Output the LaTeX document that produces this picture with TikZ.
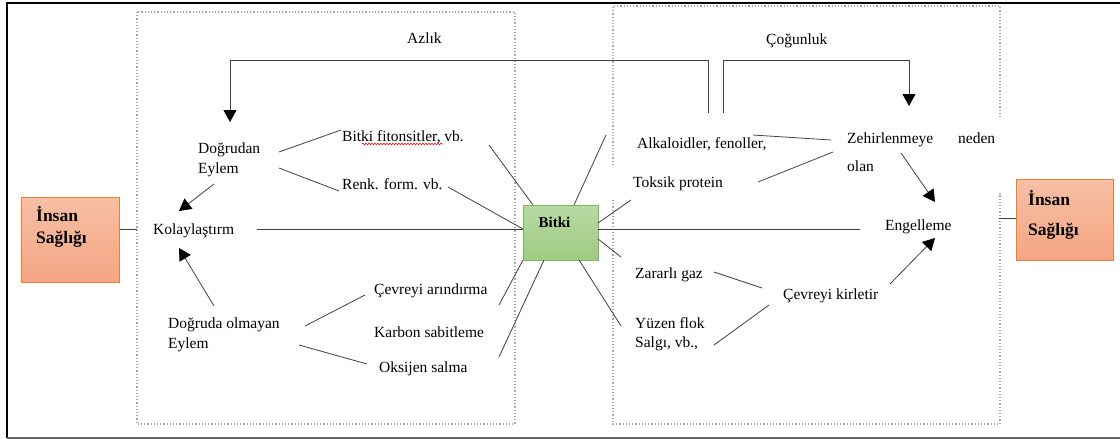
\documentclass[tikz,border=0pt]{standalone}
\usepackage{fontspec}
\setmainfont{Liberation Serif}
\usetikzlibrary{arrows.meta,decorations.pathmorphing}
\definecolor{lnc}{HTML}{404040}
\definecolor{zonec}{HTML}{A6A6A6}
\definecolor{salmonT}{HTML}{F7BFA5}
\definecolor{salmonB}{HTML}{F4A583}
\definecolor{salmonD}{HTML}{ED7D31}
\definecolor{greenT}{HTML}{B8D9A3}
\definecolor{greenB}{HTML}{9FCB82}
\definecolor{greenD}{HTML}{7FB85A}
\begin{document}
\begin{tikzpicture}[x=1pt,y=-1pt,
 txt/.style={inner sep=0pt, anchor=base west, font=\fontsize{15.5}{18}\selectfont},
 boldtxt/.style={inner sep=0pt, anchor=base west, font=\fontsize{17.5}{20}\selectfont\bfseries},
 conn/.style={draw=lnc, line width=0.8pt},
 arr/.style={conn, -{Triangle[length=12pt,width=13pt,color=black]}},
 zone/.style={draw=zonec, dotted, line width=1.2pt},
 salmonbox/.style={draw=salmonD, line width=1pt, top color=salmonT, bottom color=salmonB, inner sep=0pt, anchor=north west},
 greenbox/.style={draw=greenD, line width=1pt, top color=greenT, bottom color=greenB, inner sep=0pt, anchor=north west},
]
\useasboundingbox (0,0) rectangle (1120,439);
% outer frame
\draw[line width=2.5pt] (7,3) -- (1120,3);
\draw[line width=2pt] (7,2) -- (7,438);
\draw[black!60, line width=1.5pt] (7,438) -- (1120,438);
% dotted zones
\draw[zone] (137,12) rectangle (515,424);
\draw[zone] (613,165) -- (613,6) -- (1000,6) -- (1000,118);
\draw[zone] (613,200) -- (613,424) -- (1000,424) -- (1000,193);
% boxes
\node[salmonbox, minimum width=98pt, minimum height=85pt] (insanL) at (21,197) {};
\node[boldtxt] (insanL1) at (36,221) {İnsan};
\node[boldtxt] (insanL2) at (36,243) {Sağlığı};
\node[salmonbox, minimum width=97pt, minimum height=81pt] (insanR) at (1016,179) {};
\node[boldtxt] (insanR1) at (1028,205) {İnsan};
\node[boldtxt] (insanR2) at (1028,235) {Sağlığı};
\node[greenbox, minimum width=75pt, minimum height=55pt] (bitki) at (523,205) {};
\node[inner sep=0pt, font=\fontsize{15}{18}\selectfont\bfseries] (bitkit) at (554.5,222) {Bitki};
% texts
\node[txt] (azlik) at (407,43) {Azlık};
\node[txt] (cogun) at (766,45) {Çoğunluk};
\node[txt] (dog1) at (198,153) {Doğrudan};
\node[txt] (dog2) at (198,173) {Eylem};
\node[txt] (fiton) at (342,141) {Bitki fitonsitler, vb.};
\node[txt] (renk) at (342,189) {Renk. form. vb.};
\node[txt] (kolay) at (153,234) {Kolaylaştırm};
\node[txt] (dol1) at (168,328) {Doğruda olmayan};
\node[txt] (dol2) at (168,348) {Eylem};
\node[txt] (arin) at (374,294) {Çevreyi arındırma};
\node[txt] (karbon) at (374,337) {Karbon sabitleme};
\node[txt] (oksi) at (379,372) {Oksijen salma};
\node[txt] (alka) at (637,148) {Alkaloidler, fenoller,};
\node[txt] (toksik) at (633,187) {Toksik protein};
\node[txt] (zehir) at (847,143) {Zehirlenmeye};
\node[txt] (neden) at (958,143) {neden};
\node[txt] (olan) at (847,171) {olan};
\node[txt] (engel) at (885,230) {Engelleme};
\node[txt] (zarar) at (635,278) {Zararlı gaz};
\node[txt] (kirlet) at (783,299) {Çevreyi kirletir};
\node[txt] (yuzen1) at (635,328) {Yüzen flok};
\node[txt] (yuzen2) at (635,347) {Salgı, vb.,};
% spell-check underline
\draw[red, line width=0.6pt, decorate, decoration={snake, amplitude=0.8pt, segment length=3pt}] (362,144) -- (443,144);
% coordinates
\coordinate (alkaA) at (708,113);
\coordinate (alkaB) at (723,113);
\coordinate (dogTip) at (230,122);
\coordinate (zehTip) at (909,106);
\coordinate (dogE1) at (279,152);
\coordinate (dogE2) at (279,168);
\coordinate (fitW) at (341,130);
\coordinate (renkW) at (339,191);
\coordinate (fitE) at (489,145);
\coordinate (renkE) at (448,187);
\coordinate (bNW) at (533,205);
\coordinate (bW) at (523,229);
\coordinate (dogS) at (214,184);
\coordinate (kolTop) at (179,211);
\coordinate (kolBot) at (179,248);
\coordinate (dolN) at (214,306);
\coordinate (zoneL) at (137,229);
\coordinate (kolE) at (257,229);
\coordinate (dolE1) at (305,326);
\coordinate (dolE2) at (299,345);
\coordinate (arinW) at (365,295);
\coordinate (oksiW) at (367,364);
\coordinate (arinE) at (499,305);
\coordinate (oksiE) at (499,357);
\coordinate (bSW) at (523,260);
\coordinate (bS1) at (544,260);
\coordinate (bS2) at (579,260);
\coordinate (bN) at (574,205);
\coordinate (bE1) at (598,223);
\coordinate (bE2) at (598,229);
\coordinate (bE3) at (598,239);
\coordinate (upFree) at (606,135);
\coordinate (toksFree) at (631,200);
\coordinate (engW) at (860,229);
\coordinate (zarW) at (621,257);
\coordinate (yuzW) at (621,326);
\coordinate (alkaE) at (753,135);
\coordinate (zehW1) at (831,140);
\coordinate (toksE) at (758,182);
\coordinate (zehW2) at (833,152);
\coordinate (zehS) at (901,153);
\coordinate (engTop) at (935,202);
\coordinate (zarE) at (714,272);
\coordinate (kirW1) at (762,288);
\coordinate (yuzE) at (714,345);
\coordinate (kirW2) at (769,305);
\coordinate (kirE) at (890,284);
\coordinate (engBot) at (935,238);
\coordinate (zoneR) at (999,218);
% connectors
\draw[arr] (alkaA) -- (708,60) -- (230,60) -- (dogTip);
\draw[arr] (alkaB) -- (723,60) -- (909,60) -- (zehTip);
\draw[conn] (dogE1) -- (fitW);
\draw[conn] (dogE2) -- (renkW);
\draw[conn] (fitE) -- (bNW);
\draw[conn] (renkE) -- (bW);
\draw[arr] (dogS) -- (kolTop);
\draw[arr] (dolN) -- (kolBot);
\draw[conn] (insanL.east |- zoneL) -- (zoneL);
\draw[conn] (kolE) -- (bW);
\draw[conn] (dolE1) -- (arinW);
\draw[conn] (dolE2) -- (oksiW);
\draw[conn] (bSW) -- (arinE);
\draw[conn] (bS1) -- (oksiE);
\draw[conn] (bN) -- (upFree);
\draw[conn] (bE1) -- (toksFree);
\draw[conn] (bE2) -- (engW);
\draw[conn] (bE3) -- (zarW);
\draw[conn] (bS2) -- (yuzW);
\draw[conn] (alkaE) -- (zehW1);
\draw[conn] (toksE) -- (zehW2);
\draw[arr] (zehS) -- (engTop);
\draw[conn] (zarE) -- (kirW1);
\draw[conn] (yuzE) -- (kirW2);
\draw[arr] (kirE) -- (engBot);
\draw[conn] (zoneR) -- (insanR.west |- zoneR);
\end{tikzpicture}
\end{document}
